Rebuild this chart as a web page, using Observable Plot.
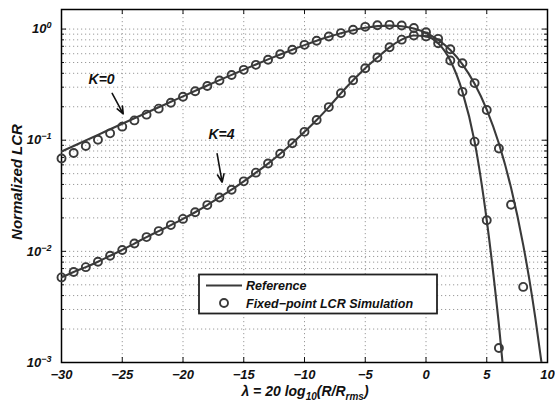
<!DOCTYPE html>
<html><head><meta charset="utf-8">
<script src="https://cdn.jsdelivr.net/npm/d3@7"></script>
<script src="https://cdn.jsdelivr.net/npm/@observablehq/plot@0.6"></script>
<style>
body{margin:0;background:#fff;}
#chart{width:555px;height:408px;}
</style></head><body><div id="chart"></div>
<script>
// ---- data ----
const lambdaRef0 = [-30,-29,-28,-27,-26,-25,-24,-23,-22,-21,-20,-19,-18,-17,-16,-15,-14,-13,-12,-11,-10,-9,-8,-7,-6,-5,-4,-3,-2,-1,0,1,2,3,4,5,6,7,8,8.5,9,9.5,10];
const refK0 = [0.0792,0.0888,0.0996,0.1117,0.1253,0.1405,0.1575,0.1766,0.1979,0.2216,0.2482,0.2777,0.3106,0.3471,0.3874,0.4319,0.4806,0.5337,0.5911,0.6525,0.7172,0.7842,0.8516,0.9171,0.9772,1.0274,1.0622,1.0750,1.0595,1.0096,0.9221,0.7986,0.6468,0.4815,0.3223,0.1887,0.0933,0.0373,0.01145,0.00562,0.00251,0.00101,0.00036];

const lambdaRef4 = [-30,-29,-28,-27,-26,-25,-24,-23,-22,-21,-20,-19,-18,-17,-16,-15,-14,-13,-12,-11,-10,-9,-8,-7,-6,-5,-4,-3,-2,-1,0,1,2,3,4,5,6,7];
const refK4 = [0.00583,0.00652,0.00721,0.00807,0.00912,0.0103,0.01175,0.01343,0.01521,0.01722,0.01959,0.02249,0.02606,0.03055,0.03589,0.04266,0.05105,0.06166,0.07551,0.09397,0.1189,0.1521,0.1986,0.2649,0.3467,0.4446,0.5546,0.6855,0.8035,0.875,0.859,0.7447,0.5212,0.2723,0.0971,0.01905,0.00219,0.000158];

const lambdaSim0 = [-30,-29,-28,-27,-26,-25,-24,-23,-22,-21,-20,-19,-18,-17,-16,-15,-14,-13,-12,-11,-10,-9,-8,-7,-6,-5,-4,-3,-2,-1,0,1,2,3,4,5,6,7,8];
const simK0 = [0.0684,0.0767,0.0887,0.1009,0.1153,0.1324,0.1507,0.1698,0.1923,0.2173,0.246,0.2754,0.3076,0.3443,0.3864,0.4295,0.4764,0.5297,0.5929,0.6516,0.7211,0.7852,0.857,0.9204,0.9863,1.0471,1.0839,1.0914,1.0765,1.0233,0.9376,0.8166,0.6577,0.492,0.3266,0.1871,0.0841,0.0263,0.00479];

const lambdaSim4 = [-30,-29,-28,-27,-26,-25,-24,-23,-22,-21,-20,-19,-18,-17,-16,-15,-14,-13,-12,-11,-10,-9,-8,-7,-6,-5,-4,-3,-2,-1,0,1,2,3,4,5,6];
const simK4 = [0.00583,0.00652,0.00721,0.00807,0.00912,0.0103,0.01175,0.01343,0.01521,0.01722,0.01959,0.02249,0.02606,0.03055,0.03589,0.04266,0.05105,0.06166,0.07551,0.09397,0.1189,0.1521,0.1986,0.2649,0.3467,0.4446,0.5546,0.6855,0.8035,0.875,0.859,0.7447,0.5212,0.2723,0.0971,0.01905,0.00135];

const xTicks = [-30,-25,-20,-15,-10,-5,0,5,10];
const yMajor = [0.001,0.01,0.1,1];
const yMinor = [0.002,0.003,0.004,0.005,0.006,0.007,0.008,0.009,0.02,0.03,0.04,0.05,0.06,0.07,0.08,0.09,0.2,0.3,0.4,0.5,0.6,0.7,0.8,0.9];

const annLabels = ["K=0","K=4"];
const annX = [-26.7,-16.83];
const annY = [0.354,0.112];
const arrowX1 = [-25.83,-17.19], arrowY1 = [0.264,0.0753];
const arrowX2 = [-24.92,-16.78], arrowY2 = [0.1726,0.0419];

const legendLabels = ["Reference","Fixed\u2212point LCR Simulation"];

// ---- build tables ----
const ref0 = lambdaRef0.map((x,i)=>({x, y: refK0[i]}));
const ref4 = lambdaRef4.map((x,i)=>({x, y: refK4[i]}));
const sim0 = lambdaSim0.map((x,i)=>({x, y: simK0[i]}));
const sim4 = lambdaSim4.map((x,i)=>({x, y: simK4[i]}));
const ann = annLabels.map((t,i)=>({t, x: annX[i], y: annY[i]}));
const arrows = arrowX1.map((x,i)=>({x1: x, y1: arrowY1[i], x2: arrowX2[i], y2: arrowY2[i]}));

const W=555, H=408, mL=61, mR=8, mT=9, mB=46;
const pW = W-mL-mR, pH = H-mT-mB;
const FONT = "'Liberation Sans', Arial, Helvetica, sans-serif";
const INK = "#3a3a3a";
const GRID = "#9a9a9a";

const chart = Plot.plot({
  width: W, height: H,
  marginLeft: mL, marginRight: mR, marginTop: mT, marginBottom: mB,
  style: {fontFamily: FONT, fontWeight: "bold", fontStyle: "italic", fontSize: "13px", background: "#fff", color: "#111", overflow: "visible"},
  x: {domain: [-30, 10]},
  y: {type: "log", domain: [0.001, 1.5]},
  marks: [
    Plot.gridX(xTicks, {stroke: GRID, strokeOpacity: 1, strokeWidth: 1, strokeDasharray: "1.2,2.8"}),
    Plot.gridY(yMajor.concat(yMinor), {stroke: GRID, strokeOpacity: 1, strokeWidth: 1, strokeDasharray: "1.2,2.8"}),
    // inward ticks
    Plot.tickX(xTicks, {x: d=>d, insetTop: pH-5, stroke: "#111", strokeWidth: 1}),
    Plot.tickX(xTicks, {x: d=>d, insetBottom: pH-5, stroke: "#111", strokeWidth: 1}),
    Plot.tickY(yMajor, {y: d=>d, insetRight: pW-5, stroke: "#111", strokeWidth: 1}),
    Plot.tickY(yMajor, {y: d=>d, insetLeft: pW-5, stroke: "#111", strokeWidth: 1}),
    Plot.tickY(yMinor, {y: d=>d, insetRight: pW-3, stroke: "#111", strokeWidth: 1}),
    Plot.tickY(yMinor, {y: d=>d, insetLeft: pW-3, stroke: "#111", strokeWidth: 1}),
    Plot.frame({stroke: "#000", strokeWidth: 1.5}),
    // reference curves
    Plot.line(ref0, {x: "x", y: "y", stroke: INK, strokeWidth: 2.1, curve: "monotone-x", clip: true}),
    Plot.line(ref4, {x: "x", y: "y", stroke: INK, strokeWidth: 2.1, curve: "monotone-x", clip: true}),
    // simulation circles
    Plot.dot(sim0, {x: "x", y: "y", r: 4, stroke: INK, strokeWidth: 1.9, fill: "none"}),
    Plot.dot(sim4, {x: "x", y: "y", r: 4, stroke: INK, strokeWidth: 1.9, fill: "none"}),
    // annotations
    Plot.text(ann, {x: "x", y: "y", text: "t", fontSize: 14, fontWeight: "bold", fontStyle: "italic", fill: "#111"}),
    Plot.arrow(arrows, {x1: "x1", y1: "y1", x2: "x2", y2: "y2", stroke: "#111", strokeWidth: 1.6, headLength: 8, headAngle: 45}),
    Plot.axisX({ticks: xTicks, tickSize: 0, tickPadding: 7, label: null,
      tickFormat: d => String(d).replace("-", "\u2212"), fontSize: 13, fontWeight: "bold", fontStyle: "italic"}),
    Plot.axisY({ticks: yMajor, tickSize: 0, tickPadding: 10, label: null,
      tickFormat: d => "10^" + Math.round(Math.log10(d)), fontSize: 13, fontWeight: "bold", fontStyle: "italic"})
  ]
});

document.getElementById("chart").appendChild(chart);
const svg = d3.select(chart);

// y tick labels with superscript exponents
svg.selectAll('g[aria-label="y-axis tick label"] text').each(function() {
  const t = d3.select(this);
  const s = t.text();
  const e = s.split("^")[1].replace("-", "\u2212");
  t.text(null);
  t.append("tspan").text("10");
  t.append("tspan").attr("dy", "-0.55em").attr("font-size", "9px").text(e);
});

// axis titles
svg.append("text")
  .attr("transform", `translate(22,182) rotate(-90)`)
  .attr("text-anchor", "middle")
  .attr("font-family", FONT).attr("font-weight", "bold").attr("font-style", "italic")
  .attr("font-size", 15).attr("fill", "#111")
  .text("Normalized LCR");

const xl = svg.append("text")
  .attr("x", 305).attr("y", 396)
  .attr("text-anchor", "middle")
  .attr("font-family", FONT).attr("font-weight", "bold").attr("font-style", "italic")
  .attr("font-size", 14).attr("fill", "#111");
xl.append("tspan").text("\u03bb = 20 log");
xl.append("tspan").attr("dy", 4).attr("font-size", 10).text("10");
xl.append("tspan").attr("dy", -4).text("(R/R");
xl.append("tspan").attr("dy", 4).attr("font-size", 10).text("rms");
xl.append("tspan").attr("dy", -4).text(")");

// legend box
const lg = svg.append("g").attr("text-anchor", "start");
lg.append("rect").attr("x", 199).attr("y", 274.5).attr("width", 238).attr("height", 39)
  .attr("fill", "#fff").attr("stroke", "#222").attr("stroke-width", 1.8);
lg.append("line").attr("x1", 206).attr("x2", 242).attr("y1", 285.5).attr("y2", 285.5)
  .attr("stroke", INK).attr("stroke-width", 2.1);
lg.append("circle").attr("cx", 224).attr("cy", 303).attr("r", 4)
  .attr("fill", "none").attr("stroke", INK).attr("stroke-width", 1.9);
legendLabels.forEach((s, i) => {
  lg.append("text").attr("x", 246).attr("y", 290 + i*17.5)
    .attr("text-anchor", "start")
    .attr("font-family", FONT).attr("font-weight", "bold").attr("font-style", "italic")
    .attr("font-size", 12.5).attr("fill", "#111").text(s);
});
</script>
</body></html>
